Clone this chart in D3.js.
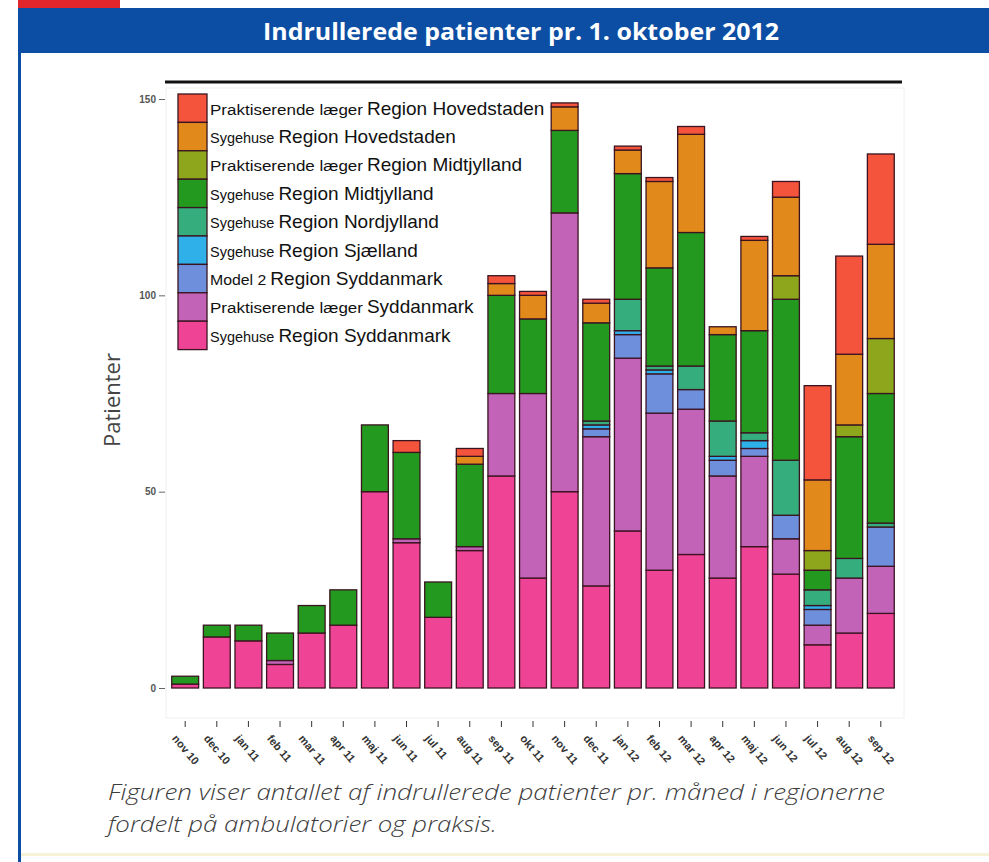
<!DOCTYPE html>
<html>
<head>
<meta charset="utf-8">
<script src="https://cdn.jsdelivr.net/npm/d3@7/dist/d3.min.js"></script>
<style>
  body { margin: 0; background: #fff; }
  svg { display: block; }
</style>
</head>
<body>
<div id="chart"></div>
<script>
const months = ["nov 10","dec 10","jan 11","feb 11","mar 11","apr 11","maj 11","jun 11","jul 11","aug 11","sep 11","okt 11",
  "nov 11","dec 11","jan 12","feb 12","mar 12","apr 12","maj 12","jun 12","jul 12","aug 12","sep 12"];

// series, bottom of stack first
const sygSyd    = [1,13,12,6,14,16,50,37,18,35,54,28,50,26,40,30,34,28,36,29,11,14,19];
const praktSyd  = [0,0,0,1,0,0,0,1,0,1,21,47,71,38,44,40,37,26,23,9,5,14,12];
const model2Syd = [0,0,0,0,0,0,0,0,0,0,0,0,0,2,6,10,5,4,2,6,4,0,10];
const sygSja    = [0,0,0,0,0,0,0,0,0,0,0,0,0,1,1,1,0,1,2,0,1,0,0];
const sygNord   = [0,0,0,0,0,0,0,0,0,0,0,0,0,1,8,1,6,9,2,14,4,5,1];
const sygMidt   = [2,3,4,7,7,9,17,22,9,21,25,19,21,25,32,25,34,22,26,41,5,31,33];
const praktMidt = [0,0,0,0,0,0,0,0,0,0,0,0,0,0,0,0,0,0,0,6,5,3,14];
const sygHov    = [0,0,0,0,0,0,0,0,0,2,3,6,6,5,6,22,25,2,23,20,18,18,24];
const praktHov  = [0,0,0,0,0,0,0,3,0,2,2,1,1,1,1,1,2,0,1,4,24,25,23];

const seriesKeys = ["sygSyd","praktSyd","model2Syd","sygSja","sygNord","sygMidt","praktMidt","sygHov","praktHov"];
const seriesValues = { sygSyd, praktSyd, model2Syd, sygSja, sygNord, sygMidt, praktMidt, sygHov, praktHov };
const legendSmall = ["Sygehuse","Praktiserende læger","Model 2","Sygehuse","Sygehuse","Sygehuse","Praktiserende læger","Sygehuse","Praktiserende læger"];
const legendBig   = ["Region Syddanmark","Syddanmark","Region Syddanmark","Region Sjælland","Region Nordjylland","Region Midtjylland","Region Midtjylland","Region Hovedstaden","Region Hovedstaden"];
const colors = ["#ef4496","#c263b8","#6e8fdc","#2fb0e8","#35ad7c","#23991f","#8ea61c","#e2891c","#f4533c"];
const yTicks = [0, 50, 100, 150];

const W = 989, H = 862;
const svg = d3.select('#chart').append('svg').attr('width', W).attr('height', H);

// page frame
svg.append('rect').attr('x', 18).attr('y', 0).attr('width', 102).attr('height', 8).attr('fill', '#e3262b');
svg.append('rect').attr('x', 18).attr('y', 8).attr('width', W - 18).attr('height', 45).attr('fill', '#0c4ea3');
svg.append('rect').attr('x', 18).attr('y', 8).attr('width', 3).attr('height', H - 8).attr('fill', '#0c4ea3');
svg.append('rect').attr('x', 21).attr('y', 853).attr('width', W - 21).attr('height', 3).attr('fill', '#f6f2d8');

svg.append('text')
  .attr('x', 521).attr('y', 40)
  .attr('text-anchor', 'middle')
  .attr('font-family', '"Open Sans", sans-serif')
  .attr('font-weight', 700).attr('font-size', 23)
  .attr('textLength', 516).attr('lengthAdjust', 'spacingAndGlyphs')
  .attr('fill', '#fff')
  .text('Indrullerede patienter pr. 1. oktober 2012');

// scales
const x = d3.scaleBand().domain(months).range([167, 899]).padding(0.15);
const y = d3.scaleLinear().domain([0, 150]).range([688, 99]);

// faint panel + top rule
svg.append('rect').attr('x', 166).attr('y', 88).attr('width', 738).attr('height', 630)
  .attr('fill', 'none').attr('stroke', '#f0f0f0').attr('stroke-width', 1);
svg.append('line').attr('x1', 165).attr('x2', 902).attr('y1', 82).attr('y2', 82)
  .attr('stroke', '#111').attr('stroke-width', 3);

// stacked bars
const table = months.map((m, i) => {
  const row = { month: m };
  seriesKeys.forEach(k => { row[k] = seriesValues[k][i]; });
  return row;
});
const stacked = d3.stack().keys(seriesKeys)(table);

svg.append('g').selectAll('g')
  .data(stacked)
  .enter().append('g')
  .attr('fill', (d, i) => colors[i])
  .selectAll('rect')
  .data(d => d.filter(s => s[1] - s[0] > 0))
  .enter().append('rect')
  .attr('x', d => x(d.data.month))
  .attr('width', x.bandwidth())
  .attr('y', d => y(d[1]))
  .attr('height', d => y(d[0]) - y(d[1]))
  .attr('stroke', '#3a1420').attr('stroke-width', 1.3);

// y axis
const yAxis = svg.append('g').attr('transform', 'translate(165,0)')
  .call(d3.axisLeft(y).tickValues(yTicks).tickSize(6).tickPadding(3));
yAxis.select('.domain').remove();
yAxis.selectAll('line').attr('stroke', '#666');
yAxis.selectAll('text').attr('font-family', '"Liberation Sans", Arial, sans-serif')
  .attr('font-size', 10).attr('font-weight', 700).attr('fill', '#555');

svg.append('text')
  .attr('transform', 'translate(120,400) rotate(-90)')
  .attr('text-anchor', 'middle')
  .attr('font-family', '"Open Sans", sans-serif')
  .attr('font-size', 22).attr('fill', '#444')
  .text('Patienter');

// x axis
const xAxis = svg.append('g').attr('transform', 'translate(0,721)')
  .call(d3.axisBottom(x).tickSize(6).tickPadding(0));
xAxis.select('.domain').remove();
xAxis.selectAll('line').attr('stroke', '#333');
xAxis.selectAll('text')
  .attr('font-family', '"Liberation Sans", Arial, sans-serif')
  .attr('font-size', 11).attr('font-weight', 700).attr('fill', '#333')
  .attr('text-anchor', 'start')
  .attr('dy', 0)
  .attr('transform', 'translate(-9,14) rotate(50)');

// legend (top item drawn first)
const legend = svg.append('g');
const order = d3.range(seriesKeys.length).reverse();
const rowH = 28.4;
order.forEach((si, r) => {
  const g = legend.append('g').attr('transform', `translate(178,${94 + r * rowH})`);
  g.append('rect').attr('width', 29).attr('height', rowH)
    .attr('fill', colors[si]).attr('stroke', '#3a1420').attr('stroke-width', 1.3);
  const t = g.append('text').attr('x', 32).attr('y', rowH / 2 + 6.5)
    .attr('font-family', '"Liberation Sans", Arial, sans-serif').attr('fill', '#111');
  t.append('tspan').attr('font-size', 15.5).attr('textLength', legendSmall[si].length * 8.05)
    .attr('lengthAdjust', 'spacingAndGlyphs').text(legendSmall[si]);
  t.append('tspan').attr('font-size', 19).attr('dx', 4).text(legendBig[si]);
});

// caption
const cap = svg.append('g')
  .attr('font-family', '"Open Sans", sans-serif')
  .attr('font-style', 'italic').attr('font-weight', 300)
  .attr('font-size', 22).attr('fill', '#3c3c3c');
cap.append('text').attr('x', 108).attr('y', 800)
  .attr('textLength', 777).attr('lengthAdjust', 'spacingAndGlyphs')
  .text('Figuren viser antallet af indrullerede patienter pr. måned i regionerne');
cap.append('text').attr('x', 108).attr('y', 832)
  .attr('textLength', 389).attr('lengthAdjust', 'spacingAndGlyphs')
  .text('fordelt på ambulatorier og praksis.');
</script>
</body>
</html>
